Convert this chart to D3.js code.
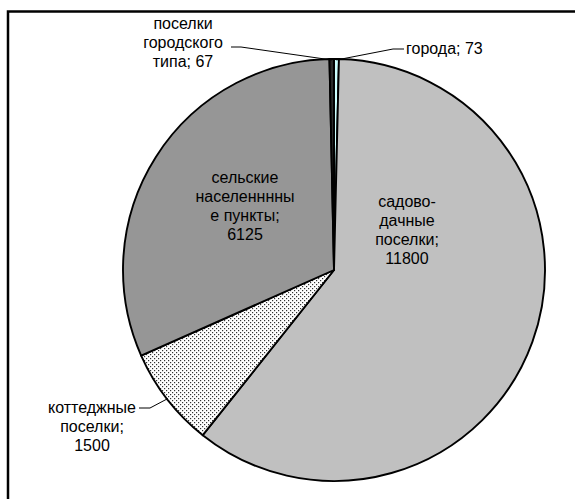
<!DOCTYPE html>
<html><head><meta charset="utf-8">
<script src="https://cdn.jsdelivr.net/npm/d3@7"></script>
<style>html,body{margin:0;padding:0;background:#fff;}</style>
</head><body>
<script>
const categories = ["города", "садово-дачные поселки", "коттеджные поселки", "сельские населенные пункты", "поселки городского типа"];
const values = [73, 11800, 1500, 6125, 67];
const labelLines = [
  ["города; 73"],
  ["садово-", "дачные", "поселки;", "11800"],
  ["коттеджные", "поселки;", "1500"],
  ["сельские", "населенннны", "е пункты;", "6125"],
  ["поселки", "городского", "типа; 67"]
];
const fills = ["#ccffff", "#c0c0c0", "url(#dots)", "#969696", "#2a2a2a"];

const W = 575, H = 499;
const cx = 334, cy = 270, R = 211;
const svg = d3.select("body").append("svg").attr("width", W).attr("height", H);
const defs = svg.append("defs");
const pat = defs.append("pattern").attr("id", "dots").attr("patternUnits", "userSpaceOnUse")
  .attr("width", 4).attr("height", 4);
pat.append("rect").attr("width", 4).attr("height", 4).attr("fill", "#fff");
pat.append("rect").attr("x", 0).attr("y", 0).attr("width", 1.2).attr("height", 1.2).attr("fill", "#333");
pat.append("rect").attr("x", 2).attr("y", 2).attr("width", 1.2).attr("height", 1.2).attr("fill", "#333");

svg.append("rect").attr("x", 8).attr("y", 11.5).attr("width", 600).attr("height", 600)
  .attr("fill", "none").attr("stroke", "#000").attr("stroke-width", 2.5);

const data = categories.map((c, i) => ({ name: c, value: values[i], lines: labelLines[i], fill: fills[i] }));
const pie = d3.pie().value(d => d.value).sort(null).startAngle(0).endAngle(2 * Math.PI);
const arcs = pie(data);
const arc = d3.arc().innerRadius(0).outerRadius(R);
const g = svg.append("g").attr("transform", `translate(${cx},${cy})`);
g.selectAll("path").data(arcs).join("path")
  .attr("d", arc).attr("fill", d => d.data.fill)
  .attr("stroke", "#000").attr("stroke-width", 1.9).attr("stroke-linejoin", "round");

const font = "'Liberation Sans', Arial, sans-serif";
const fs = 16, lh = 19;
const labelPos = [
  { x: 406, y: 54, anchor: "start" },
  { x: 407, y: 207, anchor: "middle" },
  { x: 92, y: 413, anchor: "middle" },
  { x: 245, y: 183, anchor: "middle" },
  { x: 183, y: 29, anchor: "middle" }
];
arcs.forEach((a, i) => {
  const p = labelPos[i];
  const t = svg.append("text").attr("x", p.x).attr("y", p.y)
    .attr("text-anchor", p.anchor).attr("font-family", font).attr("font-size", fs).attr("fill", "#000");
  a.data.lines.forEach((l, j) => t.append("tspan").attr("x", p.x).attr("dy", j ? lh : 0).text(l));
});

function edge(a, rr) {
  const m = (a.startAngle + a.endAngle) / 2;
  return [cx + rr * Math.sin(m), cy - rr * Math.cos(m)];
}
const leaders = [
  { i: 0, pts: [[404, 49], [393, 49]] },
  { i: 2, pts: [[139, 408], [150, 408]] },
  { i: 4, pts: [[231, 47], [241, 47]] }
];
leaders.forEach(L => {
  const e = edge(arcs[L.i], R - 1);
  const pts = [...L.pts, e];
  svg.append("path").attr("d", d3.line()(pts)).attr("fill", "none")
    .attr("stroke", "#000").attr("stroke-width", 1);
});
</script>
</body></html>
